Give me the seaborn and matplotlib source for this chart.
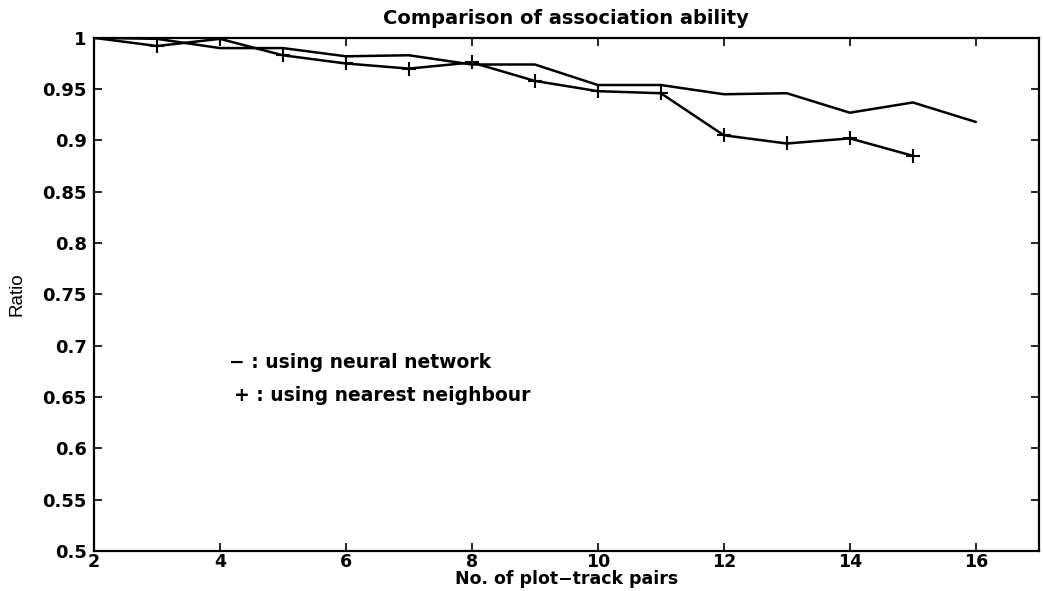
import matplotlib
matplotlib.use("Agg")
import matplotlib.pyplot as plt
import seaborn as sns
import pandas as pd

sns.set_theme(style="white")
plt.rcParams['font.family'] = ['DejaVu Sans']
plt.rcParams['text.color'] = 'black'
plt.rcParams['axes.labelcolor'] = 'black'
plt.rcParams['xtick.color'] = 'black'
plt.rcParams['ytick.color'] = 'black'

# Data
pairs_nn = [2, 3, 4, 5, 6, 7, 8, 9, 10, 11, 12, 13, 14, 15, 16]
ratio_nn = [1.0, 0.999, 0.990, 0.990, 0.982, 0.983, 0.974, 0.974, 0.954, 0.954,
            0.945, 0.946, 0.927, 0.937, 0.918]
pairs_near = [2, 3, 4, 5, 6, 7, 8, 9, 10, 11, 12, 13, 14, 15]
ratio_near = [1.0, 0.992, 0.999, 0.983, 0.975, 0.970, 0.976, 0.958, 0.948, 0.946,
              0.905, 0.897, 0.902, 0.885]
x_ticks = [2, 4, 6, 8, 10, 12, 14, 16]
y_ticks = [0.5, 0.55, 0.6, 0.65, 0.7, 0.75, 0.8, 0.85, 0.9, 0.95, 1.0]
y_tick_labels = ["0.5", "0.55", "0.6", "0.65", "0.7", "0.75", "0.8", "0.85", "0.9", "0.95", "1"]

df_nn = pd.DataFrame({"pairs": pairs_nn, "ratio": ratio_nn})
df_near = pd.DataFrame({"pairs": pairs_near, "ratio": ratio_near})

fig = plt.figure(figsize=(10.43, 5.91), dpi=100)
ax = fig.add_axes([0.090, 0.068, 0.906, 0.868])

sns.lineplot(data=df_nn, x="pairs", y="ratio", ax=ax, color="black", linewidth=1.8)
sns.lineplot(data=df_near, x="pairs", y="ratio", ax=ax, color="black", linewidth=1.8,
             marker="+", markersize=10, markeredgewidth=1.5,
             markeredgecolor="black", markerfacecolor="black")

ax.set_xlim(2, 17)
ax.set_ylim(0.5, 1.0)
ax.set_xticks(x_ticks)
ax.set_xticklabels([str(t) for t in x_ticks], fontsize=12.5, fontweight="bold")
ax.set_yticks(y_ticks)
ax.set_yticklabels(y_tick_labels, fontsize=13, fontweight="bold")
ax.tick_params(direction="in", length=6, width=1.2, top=True, right=True,
               bottom=True, left=True, colors="black")
ax.tick_params(axis="y", pad=5)
ax.tick_params(axis="x", pad=1.5)
for s in ax.spines.values():
    s.set_color("black")
    s.set_linewidth(1.6)

ax.set_title("Comparison of association ability", fontsize=14, fontweight="bold",
             y=1.027, pad=0)
ax.set_xlabel("No. of plot\u2212track pairs", fontsize=12.5, fontweight="bold")
ax.xaxis.set_label_coords(0.5, -0.037)
ax.set_ylabel("Ratio", fontsize=13.5, family=['Liberation Sans', 'DejaVu Sans'])
ax.yaxis.set_label_coords(-0.072, 0.5)

ax.text(4.15, 0.684, "\u2212 : using neural network", fontsize=13.5, fontweight="bold",
        va="center", ha="left")
ax.text(4.22, 0.651, "+ : using nearest neighbour", fontsize=13.5, fontweight="bold",
        va="center", ha="left")

fig.savefig("out.png", dpi=100)
